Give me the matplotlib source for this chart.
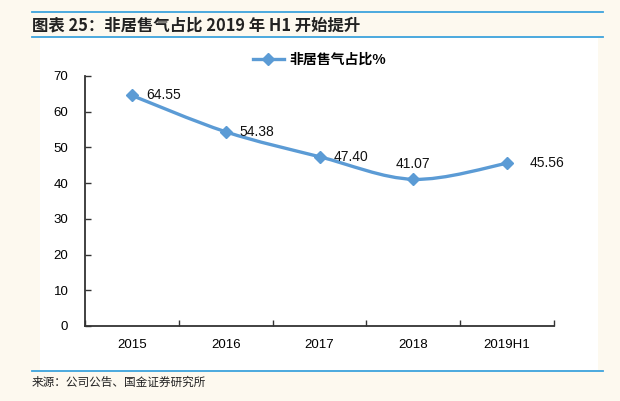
import numpy as np
import matplotlib.pyplot as plt
from matplotlib.path import Path
from matplotlib.patches import PathPatch, Rectangle
from matplotlib.lines import Line2D

plt.rcParams['font.family'] = ['Liberation Sans', 'Noto Sans CJK SC', 'DejaVu Sans']

categories = ['2015', '2016', '2017', '2018', '2019H1']
values = [64.55, 54.38, 47.40, 41.07, 45.56]
series_name = '非居售气占比%'
title = '图表 25：非居售气占比 2019 年 H1 开始提升'
source = '来源：公司公告、国金证券研究所'

line_color = '#5B9BD5'
bg = '#FDF9EF'
rule_color = '#3DA3DD'

fig = plt.figure(figsize=(6.2, 4.01), dpi=100, facecolor=bg)

# white panel and rules
fig.add_artist(Rectangle((40 / 620, 1 - 370 / 401), 558 / 620, 332 / 401,
                         transform=fig.transFigure, facecolor='white',
                         edgecolor='none', zorder=-5))
for yy in (12, 37, 371):
    fig.add_artist(Line2D([32 / 620, 603 / 620], [1 - yy / 401] * 2,
                          transform=fig.transFigure, color=rule_color, lw=1.3))

fig.text(32 / 620, 1 - 25 / 401, title, fontsize=11.8, fontweight='bold',
         family=['Noto Sans CJK SC', 'DejaVu Sans'], va='center', ha='left', color='#222222')
fig.text(32 / 620, 1 - 382 / 401, source, fontsize=8.4,
         family=['Noto Sans CJK SC', 'DejaVu Sans'], va='center', ha='left', color='#222222')

ax = fig.add_axes([85 / 620, 1 - 326 / 401, 469 / 620, 250 / 401])
ax.set_facecolor('none')

x = np.arange(len(values))
pts = np.column_stack([x, values])

# smoothed line (Excel-like bezier)
verts = [tuple(pts[0])]
codes = [Path.MOVETO]
n = len(pts)
for i in range(n - 1):
    p0 = pts[max(i - 1, 0)]
    p1 = pts[i]
    p2 = pts[i + 1]
    p3 = pts[min(i + 2, n - 1)]
    c1 = p1 + (p2 - p0) / 6
    c2 = p2 - (p3 - p1) / 6
    verts += [tuple(c1), tuple(c2), tuple(p2)]
    codes += [Path.CURVE4] * 3
ax.add_patch(PathPatch(Path(verts, codes), facecolor='none', edgecolor=line_color,
                       lw=2.4, zorder=2))
ax.plot(x, values, ls='none', marker='D', ms=6, color=line_color, zorder=3)

offsets = [(10, 0, 'left', 'center'), (10, 0, 'left', 'center'),
           (10, 0, 'left', 'center'), (0, 6, 'center', 'bottom'),
           (16, 0, 'left', 'center')]
for xi, v, (dx, dy, ha, va) in zip(x, values, offsets):
    ax.annotate(f'{v:.2f}', (xi, v), xytext=(dx, dy), textcoords='offset points',
                ha=ha, va=va, fontsize=10, color='#111111')

ax.set_xlim(-0.5, len(values) - 0.5)
ax.set_ylim(0, 70)
ax.set_yticks(range(0, 71, 10))
ax.set_xticks(np.arange(-0.5, len(values), 1))
ax.set_xticklabels([])
ax.set_xticks(x, minor=True)
ax.set_xticklabels(categories, minor=True)
ax.tick_params(axis='x', which='major', direction='in', length=4, width=1, color='#333333')
ax.tick_params(axis='x', which='minor', length=0, pad=9, labelsize=9.5)
ax.tick_params(axis='y', direction='in', length=4, width=1, color='#333333',
               pad=12, labelsize=9.5)
for s in ('top', 'right'):
    ax.spines[s].set_visible(False)
for s in ('left', 'bottom'):
    ax.spines[s].set_color('#333333')
    ax.spines[s].set_linewidth(1.3)

leg = ax.legend([Line2D([], [], color=line_color, lw=2.4, marker='D', ms=6)],
                [series_name], loc='center', bbox_to_anchor=(0.5, 1 + 16 / 250),
                frameon=False, handlelength=2.2, handletextpad=0.4,
                prop={'family': ['Noto Sans CJK SC', 'DejaVu Sans'], 'size': 10, 'weight': 'bold'})

fig.savefig('out.png', dpi=100, facecolor=bg)
